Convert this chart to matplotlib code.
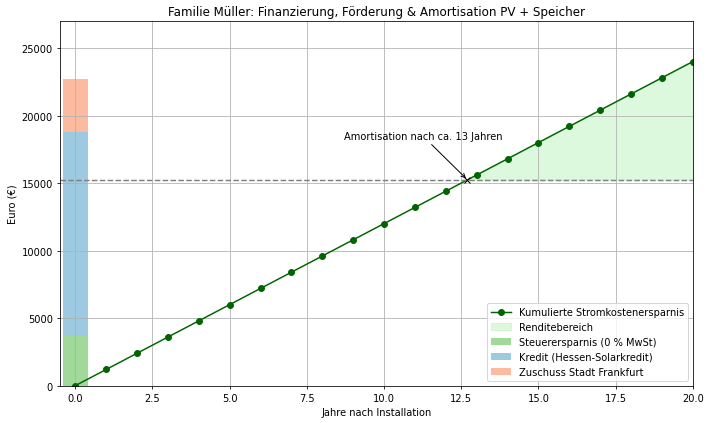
import matplotlib
matplotlib.use("Agg")
import matplotlib.pyplot as plt

# Daten
jahre = [0, 1, 2, 3, 4, 5, 6, 7, 8, 9, 10, 11, 12, 13, 14, 15, 16, 17, 18, 19, 20]
ersparnis = [0, 1200, 2400, 3600, 4800, 6000, 7200, 8400, 9600, 10800, 12000,
             13200, 14400, 15600, 16800, 18000, 19200, 20400, 21600, 22800, 24000]
steuer = 3650
kredit = 15150
zuschuss = 3900
kosten_netto = 15250
amortisation_jahr = 12.7

fig, ax = plt.subplots(figsize=(10, 5.955), dpi=71.2)

ax.plot(jahre, ersparnis, marker='o', color='darkgreen', label='Kumulierte Stromkostenersparnis')
ax.axhline(kosten_netto, color='gray', linestyle='--', linewidth=1.5)
ax.fill_between(jahre, ersparnis, kosten_netto,
                where=[e >= kosten_netto for e in ersparnis], interpolate=True,
                color='lightgreen', alpha=0.3, label='Renditebereich')

ax.bar(0, steuer, width=0.8, color='#a1d99b', label='Steuerersparnis (0 % MwSt)')
ax.bar(0, kredit, width=0.8, bottom=steuer, color='#9ecae1', label='Kredit (Hessen-Solarkredit)')
ax.bar(0, zuschuss, width=0.8, bottom=steuer + kredit, color='#fcbba1', label='Zuschuss Stadt Frankfurt')

ax.plot(amortisation_jahr, kosten_netto, 'kx', markersize=6)
ax.annotate('Amortisation nach ca. 13 Jahren',
            xy=(amortisation_jahr, kosten_netto),
            xytext=(8.7, 18250),
            arrowprops=dict(arrowstyle='->', color='black'))

ax.set_xlim(-0.5, 20)
ax.set_ylim(0, 27000)
ax.set_title('Familie Müller: Finanzierung, Förderung & Amortisation PV + Speicher')
ax.set_xlabel('Jahre nach Installation')
ax.set_ylabel('Euro (€)')
ax.grid(True)
ax.legend(loc='lower right')

plt.subplots_adjust(left=0.084, right=0.973, top=0.948, bottom=0.088)
plt.savefig('out.png')
